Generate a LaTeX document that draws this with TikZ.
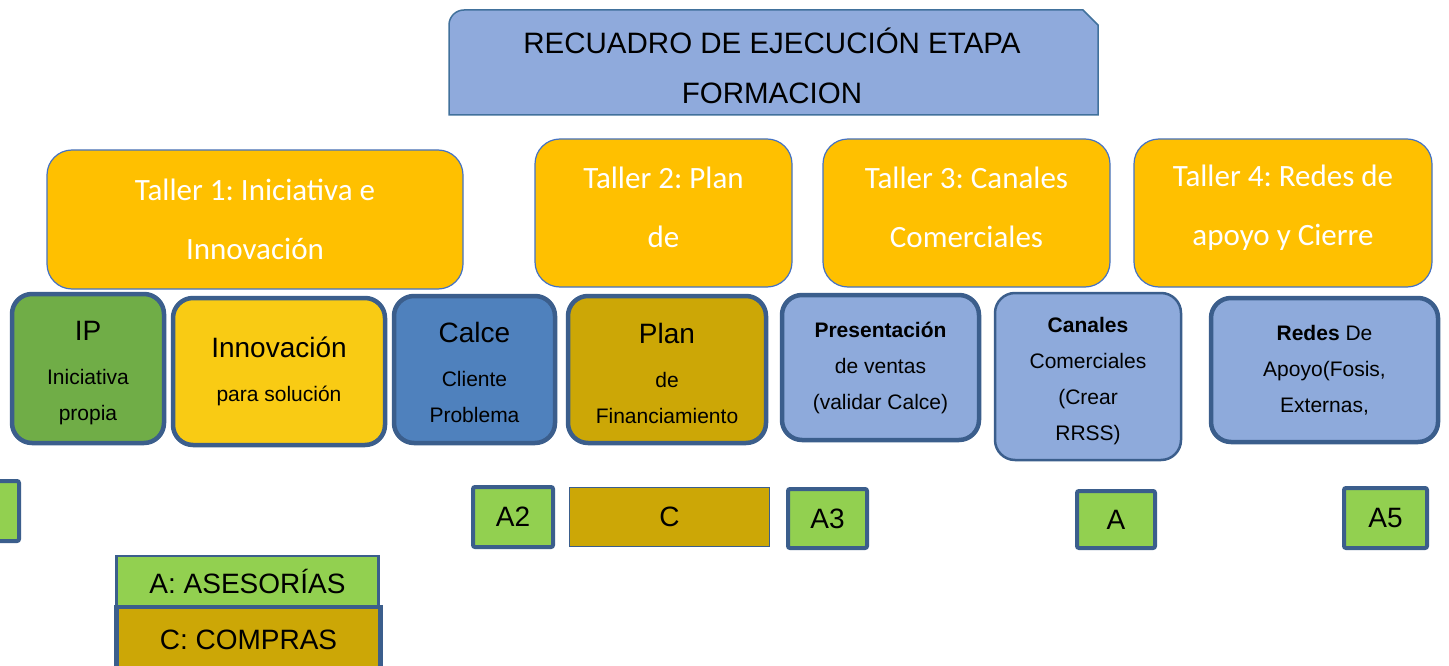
\documentclass[tikz,border=0pt]{standalone}
\usepackage{fontspec}
\setmainfont{Liberation Sans}
\newfontfamily\calfont{Carlito}
\frenchspacing
\definecolor{titlefill}{HTML}{8FAADC}
\definecolor{titleborder}{HTML}{41719C}
\definecolor{tallerfill}{HTML}{FFC000}
\definecolor{tallerborder}{HTML}{4472C4}
\definecolor{cardborder}{HTML}{3B5E8C}
\definecolor{ipgreen}{HTML}{70AD47}
\definecolor{innoyellow}{HTML}{F9CB14}
\definecolor{calceblue}{HTML}{4F81BD}
\definecolor{planbrown}{HTML}{CCA706}
\definecolor{lightblue}{HTML}{8EAADB}
\definecolor{agreen}{HTML}{92D050}
\begin{document}
\frenchspacing
\begin{tikzpicture}[x=1pt,y=-1pt,
  taller/.style={draw=tallerborder, line width=1.2pt, fill=tallerfill, rounded corners=25pt,
    text=white, font=\calfont\fontsize{31}{59}\selectfont, align=center, inner sep=0pt},
  card/.style={draw=cardborder, line width=4.5pt, rounded corners=20pt, align=center,
    inner sep=0pt, font=\fontsize{21}{36}\selectfont},
  tagbox/.style={draw=cardborder, line width=4pt, rounded corners=2pt, fill=agreen,
    inner sep=0pt, font=\fontsize{28}{28}\selectfont}
]
\useasboundingbox (0,0) rectangle (1449,666);
\fill[white] (0,0) rectangle (1449,666);

% title
\filldraw[fill=titlefill, draw=titleborder, line width=1.5pt]
  (449,115) -- (449,25) arc(180:270:15) -- (1083,10) -- (1098,25) -- (1098,115) -- cycle;
\node[align=center, font=\fontsize{29.5}{50}\selectfont] (title) at (772,66)
  {RECUADRO DE EJECUCIÓN ETAPA\\FORMACION};

% talleres
\node[taller, minimum width=416pt, minimum height=139pt] (t1) at (255,219.5)
  {Taller 1: Iniciativa e\\Innovación};
\node[taller, text depth=12pt, minimum width=257pt, minimum height=148pt] (t2) at (663.5,213)
  {Taller 2: Plan\\de};
\node[taller, text depth=12pt, minimum width=287pt, minimum height=148pt] (t3) at (966.5,213)
  {Taller 3: Canales\\Comerciales};
\node[taller, text depth=16pt, minimum width=298pt, minimum height=148pt] (t4) at (1283,213)
  {Taller 4: Redes de\\apoyo y Cierre};

% cards
\node[card, fill=ipgreen, minimum width=152pt, minimum height=149pt] (ip) at (88,368.5)
  {\rule{0pt}{28pt}{\fontsize{28}{28}\selectfont IP}\\[8pt]Iniciativa\\propia};
\node[card, fill=innoyellow, minimum width=212pt, minimum height=147pt] (inno) at (279,371.5)
  {{\fontsize{28}{28}\selectfont Innovación}\\[8pt]para solución};
\node[card, fill=calceblue, minimum width=161pt, minimum height=147pt] (calce) at (474.5,369.5)
  {\rule{0pt}{27pt}{\fontsize{28}{28}\selectfont Calce}\\[8pt]Cliente\\Problema};
\node[card, fill=planbrown, minimum width=198pt, minimum height=147pt] (plan) at (667,369.5)
  {\rule{0pt}{29pt}{\fontsize{28}{28}\selectfont Plan}\\[8pt]de\\Financiamiento};
\node[card, fill=lightblue, minimum width=197pt, minimum height=145pt] (pres) at (880.5,367.5)
  {\textbf{Presentación}\\de ventas\\(validar Calce)};
\node[card, fill=lightblue, line width=2.5pt, minimum width=186pt, minimum height=167pt] (canales) at (1088,376.5)
  {\rule{0pt}{25pt}\textbf{Canales}\\Comerciales\\(Crear\\RRSS)};
\node[card, fill=lightblue, minimum width=227pt, minimum height=144pt] (redes) at (1324.5,370)
  {\textbf{Redes} De\\Apoyo(Fosis,\\Externas,};

% tags
\node[tagbox, minimum width=76pt, minimum height=60pt] (a1) at (-19,511) {};
\node[tagbox, minimum width=80pt, minimum height=60pt] (a2) at (513,517) {A2};
\node[tagbox, fill=planbrown, line width=1.5pt, rounded corners=0pt, minimum width=200pt, minimum height=59pt] (c) at (669.5,517) {C};
\node[tagbox, minimum width=79pt, minimum height=59pt] (a3) at (827.5,518.5) {A3};
\node[tagbox, minimum width=78pt, minimum height=57pt] (a4) at (1116,519.5) {A};
\node[tagbox, minimum width=83pt, minimum height=60pt] (a5) at (1385.5,518) {A5};

% legend
\node[tagbox, line width=2.5pt, rounded corners=0pt, minimum width=262pt, minimum height=51pt] (legA) at (247.5,581.5) {A: ASESORÍAS};
\node[tagbox, fill=planbrown, line width=4.5pt, rounded corners=0pt, minimum width=264pt, minimum height=66pt] (legC) at (248.5,640) {C: COMPRAS};
\end{tikzpicture}
\end{document}
